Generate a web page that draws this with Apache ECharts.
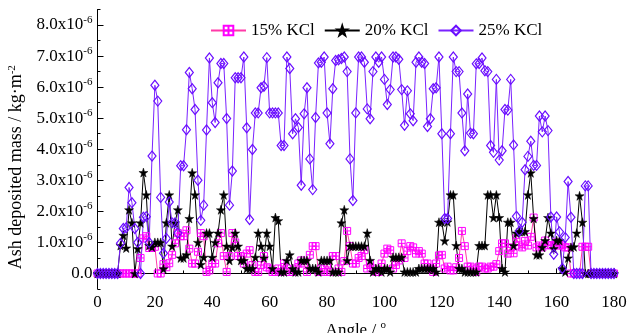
<!DOCTYPE html>
<html>
<head>
<meta charset="utf-8">
<script src="https://cdn.jsdelivr.net/npm/echarts@6/dist/echarts.min.js"></script>
<style>
  html, body { margin: 0; padding: 0; background: #fff; }
  #c_chart { width: 636px; height: 333px; }
</style>
</head>
<body>
<div id="c_chart"></div>
<script>
// values in 1e-6 kg/m^2, one point per degree, 0..180
var kcl15 = [
  0, 0, 0, 0, 0, 0, 0, 0, 0, 0, 0, 0, 0, 0, 0, 0.5, 1.13, 1.2, 0.82, 0.82,
  0.86, 0, 0, 0.3, 0.2, 0.33, 0.6, 0.97, 1.3, 1.2, 1.2, 1.39, 0.8, 0.32, 0.32, 0.7, 1.3, 1.2, 0.05, 0.1,
  0.32, 0.32, 0.97, 1.3, 0.56, 0.05, 0.56, 1.3, 1.0, 0.56, 0.56, 0.32, 0.64, 0.75, 0.27, 0.05, 0.05, 0.27, 0.56, 0.2,
  0.16, 0.05, 0.05, 0.16, 0.05, 0.32, 0.16, 0.05, 0.05, 0.16, 0.32, 0.42, 0.32, 0.05, 0.6, 0.88, 0.88, 0.05, 0.16, 0.05,
  0.32, 0.05, 0.56, 0.56, 0.16, 0.05, 0.4, 1.37, 0.88, 0.32, 0.32, 0.5, 0.56, 0.75, 0.16, 0.32, 0.16, 0.05, 0.05, 0.32,
  0.64, 0.8, 0.75, 0.16, 0.27, 0.42, 0.97, 0.5, 0.72, 0.88, 0.84, 0.64, 0.72, 0.64, 0.32, 0.32, 0.16, 0.05, 0.32, 0.58,
  0.6, 0.16, 0.22, 0.1, 0.1, 0.2, 0.5, 1.37, 0.88, 0.22, 0.22, 0.16, 0.05, 0.22, 0.22, 0.16, 0.16, 0.22, 0.22, 0.3,
  0.72, 0.97, 0.97, 0.64, 0.84, 0.65, 1.13, 0.9, 0.84, 1.05, 0.9, 1.18, 1.8, 0.84, 0.9, 0.84, 1.06, 0.91, 0.91, 0.9,
  1.0, 0.9, 0.91, 0.84, 0.84, 0, 0, 0, 0, 0.86, 0.86, 0.86, 0, 0, 0, 0, 0, 0, 0, 0,
  0
]
var kcl20 = [
  0, 0, 0, 0, 0, 0, 0, 0, 0.9, 1.23, 0.82, 2.05, 1.63, 0, 0.8, 1.63, 3.25, 2.53, 0.9, 0.85,
  1.0, 1.0, 1.0, 0.15, 1.63, 2.53, 0.88, 1.63, 2.05, 0.5, 0.5, 0.6, 1.77, 3.24, 2.53, 1.0, 0.29, 0.52, 1.3, 1.3,
  0.52, 1.0, 1.3, 2.05, 2.53, 0.88, 0.42, 0.84, 1.3, 0.88, 0.42, 0.42, 0.16, 0.16, 0.16, 0.52, 1.3, 0.88, 0.5, 1.3,
  0.88, 0.16, 1.8, 1.7, 0.05, 0.05, 0.42, 0.6, 0.16, 0.05, 0.05, 0.42, 0.42, 0.42, 0.16, 0.16, 0.16, 0.05, 0.42, 0.42,
  0.42, 0.42, 0.05, 0.05, 0.05, 1.63, 2.05, 0.42, 0.88, 0.88, 0.88, 0.88, 0.88, 0.88, 1.3, 0.42, 0.05, 0.16, 0.16, 0.05,
  0.16, 0.16, 0.05, 0.52, 0.52, 0.52, 0.52, 0.05, 0.05, 0.05, 0.05, 0.05, 0.16, 0.16, 0.16, 0.16, 0.16, 0.16, 0.05, 1.65,
  1.66, 1.05, 1.66, 2.53, 2.53, 0.9, 0.16, 0.16, 0.05, 0.05, 0.05, 0.05, 0.05, 0.9, 0.9, 0.9, 2.53, 2.53, 1.8, 2.53,
  1.8, 0.16, 0.05, 1.65, 1.65, 0.9, 1.3, 1.35, 1.35, 1.35, 2.53, 3.24, 1.77, 0.6, 0.6, 0.84, 1.06, 1.8, 1.3, 0.8,
  1.06, 1.06, 0.16, 0.05, 0.5, 0.84, 0.86, 1.3, 2.5, 1.65, 0, 0, 0, 0, 0, 0, 0, 0, 0, 0,
  0
]
var kcl25 = [
  0, 0, 0, 0, 0, 0, 0, 0, 0.97, 1.45, 1.47, 2.77, 2.28, 1.45, 1.0, 0, 1.81, 1.83, 1.0, 3.78,
  6.06, 5.55, 2.45, 0.65, 1.13, 2.3, 1.63, 1.63, 1.3, 3.47, 3.47, 4.63, 6.47, 5.95, 5.28, 3.0, 1.71, 2.2, 4.62, 6.94,
  5.5, 4.86, 6.14, 6.76, 6.76, 4.99, 2.2, 3.3, 6.3, 6.3, 6.3, 6.97, 4.69, 1.74, 3.99, 5.17, 5.17, 5.98, 6.03, 6.95,
  5.17, 5.17, 5.17, 5.17, 4.12, 4.12, 6.97, 6.6, 4.5, 4.98, 4.7, 2.84, 5.14, 5.98, 3.69, 2.7, 5.02, 6.78, 6.8, 6.97,
  5.17, 4.18, 5.95, 6.86, 6.88, 6.92, 6.97, 6.5, 3.69, 2.35, 5.17, 6.97, 6.97, 6.8, 5.3, 4.98, 6.5, 6.97, 6.8, 6.97,
  6.25, 5.44, 5.92, 6.97, 6.97, 6.9, 5.92, 4.77, 5.88, 5.14, 4.92, 6.8, 6.97, 6.8, 6.76, 4.73, 4.98, 5.95, 5.98, 6.97,
  4.5, 1.77, 1.77, 4.5, 6.97, 6.5, 6.5, 5.17, 3.95, 5.78, 4.52, 4.5, 6.75, 6.76, 6.94, 6.53, 6.5, 4.12, 3.9, 6.25,
  3.65, 3.95, 5.28, 5.26, 6.25, 4.14, 1.84, 1.36, 1.65, 3.34, 3.77, 4.26, 3.48, 3.48, 5.07, 4.56, 5.07, 4.6, 1.82, 0.62,
  1.82, 1.34, 0.16, 1.16, 2.96, 1.81, 0, 0, 0, 0, 2.82, 2.82, 0, 0, 0, 0, 0, 0, 0, 0,
  0
]
var seriesNames = ['15% KCl', '20% KCl', '25% KCl']
var yTickValues = [0, 1, 2, 3, 4, 5, 6, 7, 8]

var angles = kcl25.map(function (v, i) { return i })
function pairs (arr) {
  return arr.map(function (v, i) { return [angles[i], v] })
}

var serif = 'Liberation Serif'
var starPath = 'path://M50,0 L61,35 L98,35 L68,57 L79,91 L50,70 L21,91 L32,57 L2,35 L39,35 Z'
var boxCross = 'path://M0,0 L10,0 L10,10 L0,10 Z M5,0 L5,10 M0,5 L10,5'

var chart = echarts.init(document.getElementById('c_chart'))
var option = {
  animation: false,
  grid: { left: 97.5, right: 22, top: 9.5, bottom: 44, outerBoundsMode: 'none', containLabel: false },
  legend: {
    left: 205,
    top: 17,
    itemWidth: 35,
    itemHeight: 12,
    itemGap: 9,
    textStyle: { fontFamily: serif, fontSize: 17, color: '#000' },
    data: seriesNames
  },
  xAxis: {
    type: 'value',
    min: 0,
    max: 180,
    interval: 20,
    name: 'Angle / {s|o}',
    nameLocation: 'middle',
    nameGap: 31,
    nameTextStyle: {
      fontFamily: serif, fontSize: 17, color: '#000',
      rich: { s: { fontFamily: serif, fontSize: 11, padding: [0, 0, 10, 0] } }
    },
    axisLine: { lineStyle: { color: '#000', width: 1 } },
    axisTick: { inside: true, length: 5, lineStyle: { color: '#000' } },
    minorTick: { show: true, splitNumber: 2, length: 3, lineStyle: { color: '#000' } },
    axisLabel: { fontFamily: serif, fontSize: 17, color: '#000', margin: 5 },
    splitLine: { show: false }
  },
  yAxis: [{
    type: 'value',
    min: -0.5,
    max: 8.5,
    interval: 0.5,
    name: 'Ash deposited mass / kg·m{s|-2}',
    nameLocation: 'middle',
    nameGap: 59,
    nameTextStyle: {
      fontFamily: serif, fontSize: 18, color: '#000',
      padding: [0, 36, 0, 0],
      rich: { s: { fontFamily: serif, fontSize: 11, padding: [0, 0, 10, 0] } }
    },
    axisLine: { show: true, lineStyle: { color: '#000', width: 1 } },
    axisTick: { inside: true, length: 3, lineStyle: { color: '#000' } },
    axisLabel: {
      margin: 5,
      fontFamily: serif,
      fontSize: 17,
      color: '#000',
      formatter: function (v) {
        if (Math.abs(v - Math.round(v)) > 1e-6 || v < 0) return ''
        if (v === 0) return '{a|0.0}'
        return '{a|' + v.toFixed(1) + 'x10}{s|-6}'
      },
      rich: {
        a: { fontFamily: serif, fontSize: 17, color: '#000' },
        s: { fontFamily: serif, fontSize: 11, color: '#000', padding: [0, 0, 10, 0] }
      }
    },
    splitLine: { show: false }
  }, {
    type: 'value',
    min: -0.5,
    max: 8.5,
    position: 'left',
    axisLine: { show: false },
    axisTick: { inside: true, length: 6, customValues: yTickValues, lineStyle: { color: '#000' } },
    axisLabel: { show: false },
    splitLine: { show: false }
  }],
  series: [{
    name: seriesNames[0],
    type: 'line',
    data: pairs(kcl15),
    symbol: boxCross,
    symbolSize: 7,
    lineStyle: { color: '#FF3AA8', width: 1 },
    itemStyle: { color: 'none', borderColor: '#FF00FF', borderWidth: 1 }
  }, {
    name: seriesNames[1],
    type: 'line',
    data: pairs(kcl20),
    symbol: starPath,
    symbolSize: 9,
    lineStyle: { color: '#000', width: 1 },
    itemStyle: { color: '#000', borderColor: '#000', borderWidth: 0.5 }
  }, {
    name: seriesNames[2],
    type: 'line',
    data: pairs(kcl25),
    symbol: 'diamond',
    symbolSize: [8, 10],
    lineStyle: { color: '#7A22FF', width: 1 },
    itemStyle: { color: 'none', borderColor: '#6A0DFF', borderWidth: 1.2 }
  }]
}
chart.setOption(option)
window.addEventListener('resize', function () {
  chart.resize()
})
</script>
</body>
</html>
